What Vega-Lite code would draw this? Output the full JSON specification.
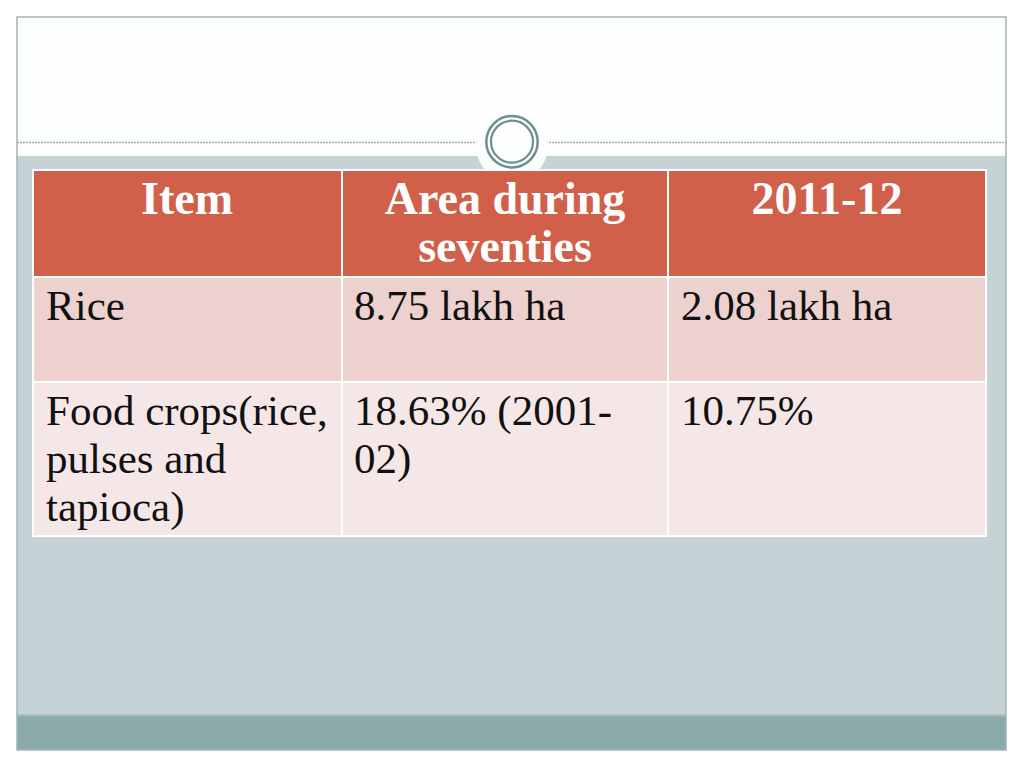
{
  "$schema": "https://vega.github.io/schema/vega-lite/v6.json",
  "width": 1024,
  "height": 768,
  "autosize": {"type": "none"},
  "padding": 0,
  "background": "#ffffff",
  "config": {"view": {"stroke": null}, "axis": {"disable": true}},
  "datasets": {
    "cells": [
      {"row": 0, "row_end": 1, "col": 0, "col_end": 1, "kind": "header", "text": "Item"},
      {"row": 0, "row_end": 1, "col": 1, "col_end": 2, "kind": "header", "text": "Area during\nseventies"},
      {"row": 0, "row_end": 1, "col": 2, "col_end": 3, "kind": "header", "text": "2011-12"},
      {"row": 1, "row_end": 2, "col": 0, "col_end": 1, "kind": "body", "text": "Rice"},
      {"row": 1, "row_end": 2, "col": 1, "col_end": 2, "kind": "body", "text": "8.75 lakh ha"},
      {"row": 1, "row_end": 2, "col": 2, "col_end": 3, "kind": "body", "text": "2.08 lakh ha"},
      {"row": 2, "row_end": 3, "col": 0, "col_end": 1, "kind": "body", "text": "Food crops(rice,\npulses and\ntapioca)"},
      {"row": 2, "row_end": 3, "col": 1, "col_end": 2, "kind": "body", "text": "18.63% (2001-\n02)"},
      {"row": 2, "row_end": 3, "col": 2, "col_end": 3, "kind": "body", "text": "10.75%"}
    ]
  },
  "layer": [
    {
      "data": {"values": [{}]},
      "layer": [
        {
          "mark": {"type": "rect", "fill": "#FDFEFE", "strokeWidth": 0},
          "encoding": {
            "x": {"datum": 17, "type": "quantitative", "scale": {"domain": [0, 1024], "range": [0, 1024], "zero": false, "nice": false}},
            "x2": {"datum": 1006},
            "y": {"datum": 17, "type": "quantitative", "scale": {"domain": [0, 768], "range": [0, 768], "zero": false, "nice": false}},
            "y2": {"datum": 750}
          }
        },
        {
          "mark": {"type": "rect", "fill": "#C5D2D6", "strokeWidth": 0},
          "encoding": {
            "x": {"datum": 17, "type": "quantitative", "scale": {"domain": [0, 1024], "range": [0, 1024], "zero": false, "nice": false}},
            "x2": {"datum": 1006},
            "y": {"datum": 156, "type": "quantitative", "scale": {"domain": [0, 768], "range": [0, 768], "zero": false, "nice": false}},
            "y2": {"datum": 715}
          }
        },
        {
          "mark": {"type": "rect", "fill": "#8AABAA", "strokeWidth": 0},
          "encoding": {
            "x": {"datum": 17, "type": "quantitative", "scale": {"domain": [0, 1024], "range": [0, 1024], "zero": false, "nice": false}},
            "x2": {"datum": 1006},
            "y": {"datum": 715, "type": "quantitative", "scale": {"domain": [0, 768], "range": [0, 768], "zero": false, "nice": false}},
            "y2": {"datum": 750}
          }
        },
        {
          "mark": {"type": "rule", "stroke": "#A3B9B9", "strokeWidth": 2},
          "encoding": {
            "x": {"datum": 17, "type": "quantitative", "scale": {"domain": [0, 1024], "range": [0, 1024], "zero": false, "nice": false}},
            "x2": {"datum": 1006},
            "y": {"datum": 715.5, "type": "quantitative", "scale": {"domain": [0, 768], "range": [0, 768], "zero": false, "nice": false}}
          }
        },
        {
          "mark": {"type": "rect", "fill": null, "stroke": "#A3B5B5", "strokeWidth": 1.5},
          "encoding": {
            "x": {"datum": 17, "type": "quantitative", "scale": {"domain": [0, 1024], "range": [0, 1024], "zero": false, "nice": false}},
            "x2": {"datum": 1006},
            "y": {"datum": 17, "type": "quantitative", "scale": {"domain": [0, 768], "range": [0, 768], "zero": false, "nice": false}},
            "y2": {"datum": 750}
          }
        },
        {
          "mark": {"type": "rule", "stroke": "#A0ACAC", "strokeWidth": 1.5, "strokeDash": [2, 1]},
          "encoding": {
            "x": {"datum": 17, "type": "quantitative", "scale": {"domain": [0, 1024], "range": [0, 1024], "zero": false, "nice": false}},
            "x2": {"datum": 478},
            "y": {"datum": 142.5, "type": "quantitative", "scale": {"domain": [0, 768], "range": [0, 768], "zero": false, "nice": false}}
          }
        },
        {
          "mark": {"type": "rule", "stroke": "#A0ACAC", "strokeWidth": 1.5, "strokeDash": [2, 1]},
          "encoding": {
            "x": {"datum": 546, "type": "quantitative", "scale": {"domain": [0, 1024], "range": [0, 1024], "zero": false, "nice": false}},
            "x2": {"datum": 1006},
            "y": {"datum": 142.5, "type": "quantitative", "scale": {"domain": [0, 768], "range": [0, 768], "zero": false, "nice": false}}
          }
        },
        {
          "mark": {"type": "circle", "size": 5184, "fill": "#FDFEFE", "opacity": 1, "fillOpacity": 1, "strokeWidth": 0},
          "encoding": {
            "x": {"datum": 512, "type": "quantitative", "scale": {"domain": [0, 1024], "range": [0, 1024], "zero": false, "nice": false}},
            "y": {"datum": 146, "type": "quantitative", "scale": {"domain": [0, 768], "range": [0, 768], "zero": false, "nice": false}}
          }
        },
        {
          "mark": {"type": "circle", "size": 2642, "fill": "#FDFEFE", "stroke": "#6F8F8F", "strokeWidth": 2.5, "opacity": 1, "fillOpacity": 1},
          "encoding": {
            "x": {"datum": 512, "type": "quantitative", "scale": {"domain": [0, 1024], "range": [0, 1024], "zero": false, "nice": false}},
            "y": {"datum": 141.7, "type": "quantitative", "scale": {"domain": [0, 768], "range": [0, 768], "zero": false, "nice": false}}
          }
        },
        {
          "mark": {"type": "circle", "size": 1764, "fill": "#FDFEFE", "stroke": "#6F8F8F", "strokeWidth": 2.2, "opacity": 1, "fillOpacity": 1},
          "encoding": {
            "x": {"datum": 512, "type": "quantitative", "scale": {"domain": [0, 1024], "range": [0, 1024], "zero": false, "nice": false}},
            "y": {"datum": 141.7, "type": "quantitative", "scale": {"domain": [0, 768], "range": [0, 768], "zero": false, "nice": false}}
          }
        }
      ]
    },
    {
      "data": {"name": "cells"},
      "mark": {"type": "rect", "stroke": "#ffffff", "strokeWidth": 2, "opacity": 1},
      "encoding": {
        "x": {"field": "col", "type": "quantitative", "scale": {"domain": [0, 1, 2, 3], "range": [33, 342, 668, 986], "zero": false, "nice": false}},
        "x2": {"field": "col_end"},
        "y": {"field": "row", "type": "quantitative", "scale": {"domain": [0, 1, 2, 3], "range": [170, 277, 382, 536], "zero": false, "nice": false}},
        "y2": {"field": "row_end"},
        "color": {"field": "row", "type": "nominal", "scale": {"domain": [0, 1, 2], "range": ["#D0604A", "#EDD1CF", "#F5E7E7"]}, "legend": null}
      }
    },
    {
      "data": {"name": "cells"},
      "layer": [
        {
          "transform": [{"filter": "datum.kind === 'header'"}],
          "mark": {"type": "text", "align": "center", "baseline": "alphabetic", "font": "Liberation Serif", "fontSize": 46, "fontWeight": "bold", "lineBreak": "\n", "lineHeight": 48, "color": "#FFFFFF"},
          "encoding": {
            "x": {"field": "col", "type": "quantitative", "scale": {"domain": [0, 1, 2], "range": [187, 505, 827], "zero": false, "nice": false}},
            "y": {"field": "row", "type": "quantitative", "scale": {"domain": [0, 1, 2], "range": [214, 320, 425], "zero": false, "nice": false}},
            "text": {"field": "text", "type": "nominal"}
          }
        },
        {
          "transform": [{"filter": "datum.kind === 'body'"}],
          "mark": {"type": "text", "align": "left", "baseline": "alphabetic", "font": "Liberation Serif", "fontSize": 43, "lineBreak": "\n", "lineHeight": 48, "color": "#111111"},
          "encoding": {
            "x": {"field": "col", "type": "quantitative", "scale": {"domain": [0, 1, 2], "range": [46, 354, 681], "zero": false, "nice": false}},
            "y": {"field": "row", "type": "quantitative", "scale": {"domain": [0, 1, 2], "range": [214, 320, 425], "zero": false, "nice": false}},
            "text": {"field": "text", "type": "nominal"}
          }
        }
      ],
      "resolve": {"scale": {"x": "independent"}}
    }
  ],
  "resolve": {"scale": {"x": "independent", "y": "independent", "color": "independent"}}
}
